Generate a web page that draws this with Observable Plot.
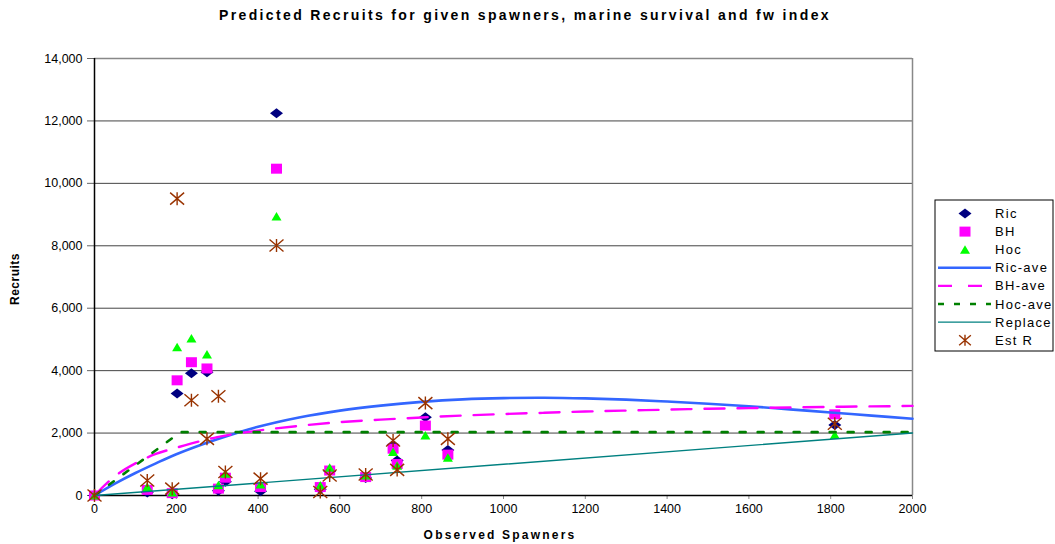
<!DOCTYPE html>
<html><head><meta charset="utf-8">
<script src="https://cdn.jsdelivr.net/npm/d3@7"></script>
<script src="https://cdn.jsdelivr.net/npm/@observablehq/plot@0.6"></script>
<style>body{margin:0;background:#fff}</style>
</head><body><div id="chart"></div>
<script>
// Observations: spawners and predicted / estimated recruits
const spawners = [0, 129, 190, 202, 237, 275, 303, 320, 406, 445, 552, 575, 663, 730, 740, 809, 864, 1810];
const ric      = [0, 100, 40, 3270, 3920, 3950, 150, 440, 140, 12250, 200, 780, 560, 1620, 1120, 2510, 1460, 2260];
const bh       = [0, 180, 75, 3690, 4270, 4070, 220, 570, 270, 10470, 270, 800, 590, 1500, 1010, 2240, 1310, 2600];
const hoc      = [0, 270, 100, 4750, 5030, 4520, 330, 700, 350, 8940, 320, 890, 640, 1390, 950, 1920, 1210, 1940];
const estR     = [0, 480, 220, 9510, 3050, 1815, 3180, 750, 540, 8010, 110, 640, 670, 1760, 820, 2960, 1815, 2300];

// Average curves
const curveX = [0, 50, 100, 150, 200, 300, 400, 500, 600, 700, 800, 900, 1000, 1100, 1200, 1300, 1400, 1500, 1600, 1700, 1800, 1900, 2000];
const ricAve = [0, 380, 720, 1030, 1320, 1800, 2200, 2500, 2720, 2880, 3000, 3080, 3120, 3130, 3110, 3070, 3010, 2940, 2860, 2760, 2660, 2560, 2460];
const bhAve  = [0, 620, 1030, 1330, 1530, 1870, 2080, 2230, 2350, 2430, 2500, 2560, 2610, 2650, 2690, 2720, 2750, 2780, 2800, 2820, 2840, 2855, 2870];
const hocX   = [0, 210, 2000];
const hocAve = [0, 2030, 2030];
const replaceX = [0, 2000];
const replaceY = [0, 2000];

const xTicks = [0, 200, 400, 600, 800, 1000, 1200, 1400, 1600, 1800, 2000];
const yTicks = [0, 2000, 4000, 6000, 8000, 10000, 12000, 14000];

const seriesNames = ["Ric", "BH", "Hoc", "Ric-ave", "BH-ave", "Hoc-ave", "Replace", "Est R"];
const titleText = "Predicted Recruits for given spawners, marine survival and fw index";
const xLabel = "Observed Spawners";
const yLabel = "Recruits";

// custom Excel-like markers
const k = s => Math.sqrt(s / Math.PI);
const diamondSym = {draw(c, s){ const f = k(s); c.moveTo(-6.5*f,0); c.lineTo(0,-5*f); c.lineTo(6.5*f,0); c.lineTo(0,5*f); c.closePath(); }};
const squareSym  = {draw(c, s){ const f = k(s); c.rect(-5.5*f,-5*f,11*f,10*f); }};
const triSym     = {draw(c, s){ const f = k(s); c.moveTo(0,-4.5*f); c.lineTo(5*f,4*f); c.lineTo(-5*f,4*f); c.closePath(); }};
const starSym    = {draw(c, s){ const f = k(s); c.moveTo(-7*f,-6*f); c.lineTo(7*f,6*f); c.moveTo(7*f,-6*f); c.lineTo(-7*f,6*f); c.moveTo(0,-6.5*f); c.lineTo(0,6.5*f); }};

const obs = spawners.map((s, i) => ({s, ric: ric[i], bh: bh[i], hoc: hoc[i], est: estR[i]}));
const curves = curveX.map((x, i) => ({x, ric: ricAve[i], bh: bhAve[i]}));
const hocRows = hocX.map((x, i) => ({x, y: hocAve[i]}));
const repRows = replaceX.map((x, i) => ({x, y: replaceY[i]}));

const C = {ric:"#000080", bh:"#ff00ff", hoc:"#00ff00", ricAve:"#3366ff", bhAve:"#ff00ff", hocAve:"#008000", rep:"#008080", est:"#993300"};

const chart = Plot.plot({
  width: 1055, height: 544,
  marginLeft: 94, marginRight: 143, marginTop: 58, marginBottom: 49,
  style: {fontFamily: "'Liberation Sans', Arial, sans-serif", fontSize: "13px", background: "#fff", color: "#000"},
  x: {domain: [0, 2000]},
  y: {domain: [0, 14000]},
  marks: [
    Plot.gridY(yTicks, {stroke: "#444", strokeOpacity: 1, strokeWidth: 1}),
    Plot.ruleX([2000], {stroke: "#888", strokeWidth: 1.5}),
    Plot.ruleY([14000], {stroke: "#888", strokeWidth: 1.5}),
    Plot.axisY({ticks: yTicks, tickFormat: d3.format(","), tickSize: 7, tickPadding: 5, label: null, fontSize: 12.5, stroke: "#666", letterSpacing: 1.5}),
    Plot.axisX({ticks: xTicks, tickFormat: d => String(d), tickSize: 4, tickPadding: 5, label: null, fontSize: 12.5, stroke: "#888", letterSpacing: 1.3}),
    Plot.ruleX([0], {stroke: "#000", strokeWidth: 1.5}),
    Plot.ruleY([0], {stroke: "#000", strokeWidth: 1.5}),
    Plot.dot(obs, {x: "s", y: "ric", symbol: diamondSym, r: 1, fill: C.ric, stroke: "none"}),
    Plot.dot(obs, {x: "s", y: "bh", symbol: squareSym, r: 1, fill: C.bh, stroke: "none"}),
    Plot.dot(obs, {x: "s", y: "hoc", symbol: triSym, r: 1, fill: C.hoc, stroke: "none"}),
    Plot.line(curves, {x: "x", y: "ric", stroke: C.ricAve, strokeWidth: 2.6, curve: "catmull-rom"}),
    Plot.line(curves, {x: "x", y: "bh", stroke: C.bhAve, strokeWidth: 2.4, strokeDasharray: "20,13", curve: "catmull-rom"}),
    Plot.line(hocRows, {x: "x", y: "y", stroke: C.hocAve, strokeWidth: 2.6, strokeDasharray: "6,12"}),
    Plot.line(repRows, {x: "x", y: "y", stroke: C.rep, strokeWidth: 1.4}),
    Plot.dot(obs, {x: "s", y: "est", symbol: starSym, r: 1, fill: "none", stroke: C.est, strokeWidth: 1.4})
  ]
});

const svg = d3.select(chart);
svg.append("text").attr("x", 525).attr("y", 20).attr("text-anchor", "middle")
  .attr("font-weight", "bold").attr("font-size", 14).attr("letter-spacing", 2.35).text(titleText);
svg.append("text").attr("x", 500).attr("y", 539).attr("text-anchor", "middle")
  .attr("font-weight", "bold").attr("font-size", 12).attr("letter-spacing", 2.2).text(xLabel);
svg.append("text").attr("transform", "translate(19,279) rotate(-90)").attr("text-anchor", "middle")
  .attr("font-weight", "bold").attr("font-size", 12).attr("letter-spacing", 0.5).text(yLabel);

// legend
const lg = svg.append("g").attr("transform", "translate(935,200)");
lg.append("rect").attr("width", 118).attr("height", 151).attr("fill", "#fff").attr("stroke", "#000");
const items = [
  {t: "marker", sym: diamondSym, fill: C.ric},
  {t: "marker", sym: squareSym, fill: C.bh},
  {t: "marker", sym: triSym, fill: C.hoc},
  {t: "line", stroke: C.ricAve, w: 2.6, dash: null},
  {t: "line", stroke: C.bhAve, w: 2.4, dash: "14,16"},
  {t: "line", stroke: C.hocAve, w: 2.6, dash: "6,10"},
  {t: "line", stroke: C.rep, w: 1.4, dash: null},
  {t: "star", sym: starSym}
];
items.forEach((it, i) => {
  const y = 13.5 + i * 18.1;
  if (it.t === "marker") {
    lg.append("path").attr("transform", `translate(30,${y})`).attr("d", d3.symbol(it.sym, Math.PI)()).attr("fill", it.fill);
  } else if (it.t === "star") {
    lg.append("path").attr("transform", `translate(30,${y})`).attr("d", d3.symbol(it.sym, Math.PI * 0.7)()).attr("fill", "none").attr("stroke", C.est).attr("stroke-width", 1.4);
  } else {
    lg.append("line").attr("x1", 3).attr("x2", 56).attr("y1", y).attr("y2", y).attr("stroke", it.stroke).attr("stroke-width", it.w).attr("stroke-dasharray", it.dash);
  }
  lg.append("text").attr("x", 60).attr("y", y).attr("dy", "0.35em").attr("text-anchor", "start")
    .attr("font-size", 13).attr("letter-spacing", 1.3).text(seriesNames[i]);
});

document.getElementById("chart").appendChild(chart);
</script>
</body></html>
